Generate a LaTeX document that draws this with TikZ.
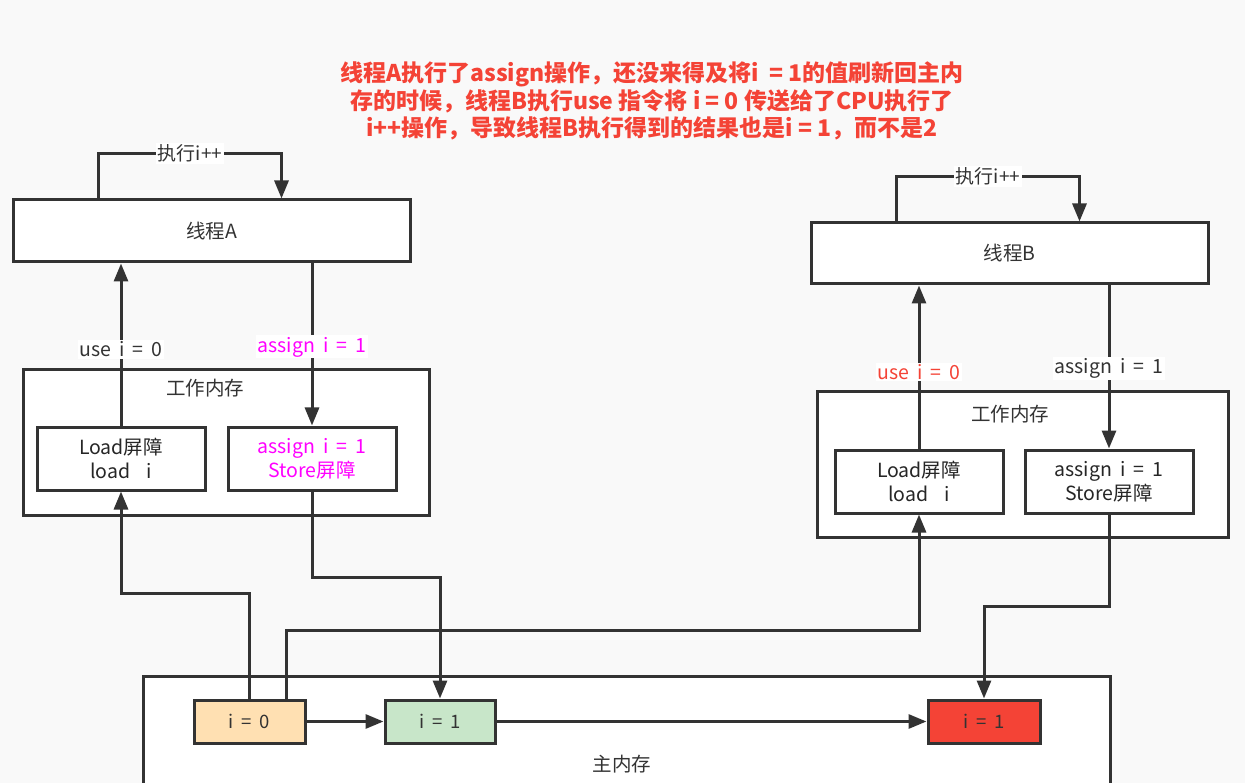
\documentclass[tikz,border=0pt]{standalone}
\usepackage{fontspec}
\setmainfont{Noto Sans CJK SC}
\usetikzlibrary{arrows.meta}
\definecolor{bgc}{HTML}{F9F9F9}
\definecolor{linec}{HTML}{333333}
\definecolor{titlec}{HTML}{F44336}
\definecolor{magc}{HTML}{FF00FF}
\definecolor{orangec}{HTML}{FFE0B2}
\definecolor{greenc}{HTML}{C8E6C9}
\definecolor{redc}{HTML}{F44336}
\newcommand\widesp{\spaceskip 0.42em\relax}

\begin{document}
\begin{tikzpicture}[x=1pt, y=-1pt,
    box/.style={draw=linec, line width=3pt, fill=white, inner sep=0pt, align=center,
      text=black!85, font=\fontsize{19.5}{24}\selectfont\widesp},
    cell/.style={box, minimum width=111pt, minimum height=43pt, text=linec, font=\fontsize{18.5}{20}\selectfont\widesp},
    conn/.style={draw=linec, line width=3pt, -{Triangle[length=18pt,width=14pt]}},
    tag/.style={fill=white, inner sep=1.5pt, font=\fontsize{19.5}{22}\selectfont\widesp}]
  \fill[bgc] (0,0) rectangle (1245,783);
  \clip (0,0) rectangle (1245,783);
  % title
  \node[font=\fontsize{23}{27.5}\selectfont\bfseries, text=titlec, align=center] (title) at (652,101)
    {线程A执行了assign操作，还没来得及将i\ \ = 1的值刷新回主内\\存的时候，线程B执行use 指令将 i = 0 传送给了CPU执行了\\i++操作，导致线程B执行得到的结果也是i = 1，而不是2};
  % thread A side
  \node[box, minimum width=397pt, minimum height=62pt, text=linec] (threadA) at (211.5,231) {线程A};
  \node[box, minimum width=406pt, minimum height=145pt] (wmA) at (226,442.5) {};
  \node[text=linec, font=\fontsize{19.5}{22}\selectfont] (wmAlabel) at (205,388) {工作内存};
  \node[box, minimum width=168pt, minimum height=63pt] (loadA) at (121,458.5) {Load屏障\\load\ \ i};
  \node[box, minimum width=168pt, minimum height=63pt, text=magc] (storeA) at (312,458.5) {assign i = 1\\Store屏障};
  % thread B side
  \node[box, minimum width=397pt, minimum height=61pt, text=linec] (threadB) at (1009.5,253.5) {线程B};
  \node[box, minimum width=411pt, minimum height=145pt] (wmB) at (1022.5,464.5) {};
  \node[text=linec, font=\fontsize{19.5}{22}\selectfont] (wmBlabel) at (1010,414) {工作内存};
  \node[box, minimum width=168pt, minimum height=63pt] (loadB) at (919,481.5) {Load屏障\\load\ \ i};
  \node[box, minimum width=168pt, minimum height=63pt] (storeB) at (1109,481.5) {assign i = 1\\Store屏障};
  % main memory
  \node[box, minimum width=967pt, minimum height=134pt] (mainmem) at (626.5,743) {};
  \node[text=linec, font=\fontsize{19.5}{22}\selectfont] (mmlabel) at (622,764) {主内存};
  \node[cell, fill=orangec] (i0) at (249.5,721.5) {i = 0};
  \node[cell, fill=greenc, minimum width=110pt] (g1) at (440,721.5) {i = 1};
  \node[cell, fill=redc, minimum width=112pt] (r1) at (984,721.5) {i = 1};

  % i++ loops
  \draw[conn] ([xshift=87pt]threadA.north west) -- ++(0,-45)
    -| node[tag, pos=0.25, text=linec, font=\fontsize{19}{22}\selectfont] (incA) {执行i++} ([xshift=270pt]threadA.north west);
  \draw[conn] ([xshift=87pt]threadB.north west) -- ++(0,-45)
    -| node[tag, pos=0.25, text=linec, font=\fontsize{19}{22}\selectfont] (incB) {执行i++} ([xshift=270pt]threadB.north west);
  % use / assign
  \draw[conn] (loadA.north) -- node[tag, pos=0.47, text=linec] (useA) {use i = 0} (loadA.north |- threadA.south);
  \draw[conn] (storeA.north |- threadA.south) -- node[tag, pos=0.515, text=magc] (assignA) {assign i = 1} (storeA.north);
  \draw[conn] (loadB.north) -- node[tag, pos=0.47, text=redc] (useB) {use i = 0} (loadB.north |- threadB.south);
  \draw[conn] (storeB.north |- threadB.south) -- node[tag, pos=0.51, text=linec] (assignB) {assign i = 1} (storeB.north);
  % main memory links
  \draw[conn] (i0.north) -- ++(0,-105) -| (loadA.south);
  \draw[conn] ([xshift=37pt]i0.north) -- ++(0,-68) -| (loadB.south);
  \draw[conn] (storeA.south) -- ++(0,86) -| (g1.north);
  \draw[conn] (storeB.south) -- ++(0,92) -| (r1.north);
  \draw[conn] (i0) -- (g1);
  \draw[conn] (g1) -- (r1);
\end{tikzpicture}
\end{document}
